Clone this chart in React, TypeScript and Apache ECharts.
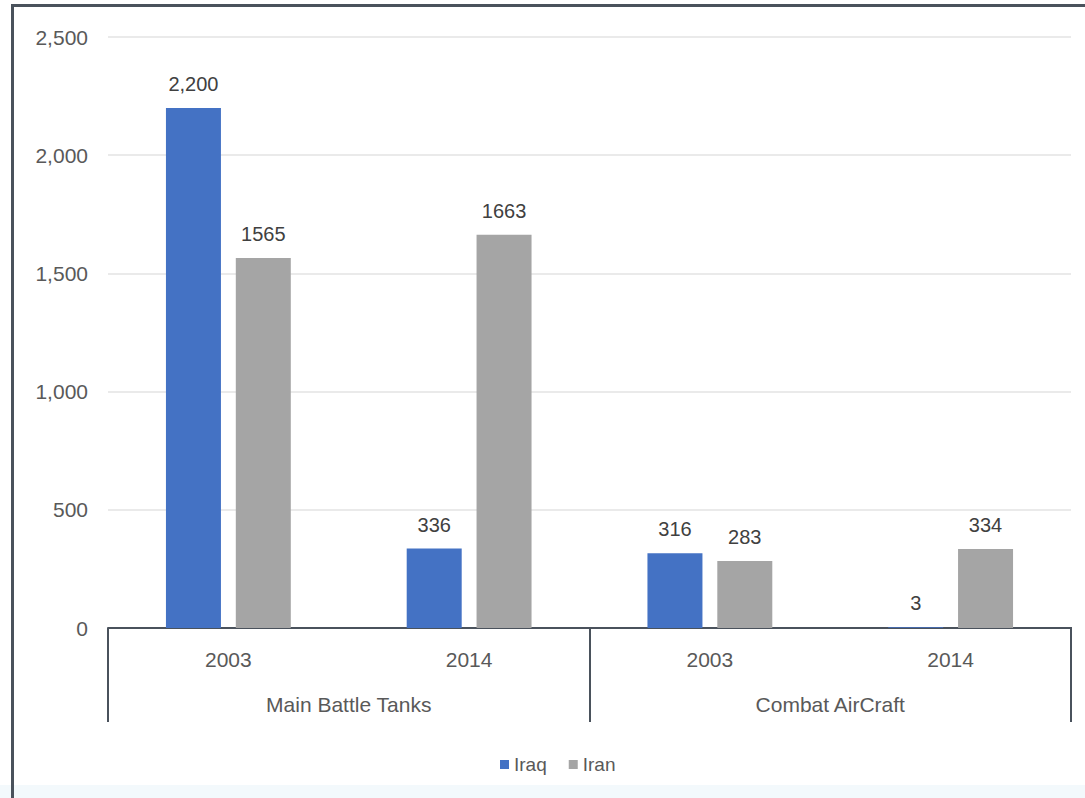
import React, { useEffect, useRef } from "react";
import * as echarts from "echarts";

const years = ["2003", "2014", "2003", "2014"];
const groups = ["Main Battle Tanks", "Combat AirCraft"];
const iraq = [2200, 336, 316, 3];
const iran = [1565, 1663, 283, 334];
const yTicks = { min: 0, max: 2500, interval: 500 };

const FONT = "'Liberation Sans', Arial, sans-serif";
const TEXT = "#595959";
const DARK = "#4a525c";
const TICK_LEN = 94;
const GRID = { left: 108, right: 14, top: 37, bottom: 170 };

export default function App() {
  const ref = useRef<HTMLDivElement>(null);
  useEffect(() => {
    if (!ref.current) return;
    const chart = echarts.init(ref.current, null, { renderer: "svg" });
    chart.setOption({
      animation: false,
      backgroundColor: "#ffffff",
      textStyle: { fontFamily: FONT },
      grid: { ...GRID, containLabel: false },
      legend: {
        left: 495,
        top: 750,
        itemWidth: 9,
        itemHeight: 9,
        itemGap: 22,
        icon: "rect",
        textStyle: { color: TEXT, fontSize: 19, fontFamily: FONT },
        data: ["Iraq", "Iran"],
      },
      xAxis: [
        {
          type: "category",
          data: years,
          position: "bottom",
          axisLine: { show: true, lineStyle: { color: DARK, width: 2 } },
          axisTick: { show: false },
          axisLabel: { color: TEXT, fontSize: 21, margin: 21, fontFamily: FONT },
        },
        {
          type: "category",
          data: groups,
          position: "bottom",
          axisLine: { show: false },
          axisTick: {
            show: true,
            interval: 0,
            length: TICK_LEN,
            lineStyle: { color: DARK, width: 2 },
          },
          axisLabel: { color: TEXT, fontSize: 21, margin: 66, fontFamily: FONT, interval: 0 },
          splitLine: { show: false },
        },
      ],
      yAxis: {
        type: "value",
        min: yTicks.min,
        max: yTicks.max,
        interval: yTicks.interval,
        axisLine: { show: false },
        axisTick: { show: false },
        splitLine: { lineStyle: { color: "#e3e3e3", width: 1.5 } },
        axisLabel: {
          color: TEXT,
          fontSize: 21,
          margin: 20,
          fontFamily: FONT,
          formatter: (v: number) => v.toLocaleString("en-US"),
        },
      },
      series: [
        {
          name: "Iraq",
          type: "bar",
          data: iraq,
          xAxisIndex: 0,
          barWidth: 55,
          barGap: "27%",
          itemStyle: { color: "#4472C4" },
          label: {
            show: true,
            position: "top",
            distance: 14,
            color: "#404040",
            fontSize: 20,
            fontFamily: FONT,
            formatter: (p: any) => Number(p.value).toLocaleString("en-US"),
          },
        },
        {
          name: "Iran",
          type: "bar",
          data: iran,
          xAxisIndex: 0,
          barWidth: 55,
          itemStyle: { color: "#A5A5A5" },
          label: {
            show: true,
            position: "top",
            distance: 14,
            color: "#404040",
            fontSize: 20,
            fontFamily: FONT,
            formatter: (p: any) => String(p.value),
          },
        },
      ],
      graphic: [
        {
          type: "rect",
          left: 0,
          top: 785,
          shape: { width: 1085, height: 13 },
          style: { fill: "#f3f9fc" },
          silent: true,
          z: -1,
        },
        {
          type: "rect",
          shape: { x: 12.5, y: 5.5, width: 1100, height: 820 },
          style: { fill: "none", stroke: DARK, lineWidth: 3 },
          silent: true,
        },
        {
          type: "rect",
          right: GRID.right - 1,
          bottom: GRID.bottom - TICK_LEN,
          shape: { width: 2, height: TICK_LEN + 1 },
          style: { fill: DARK },
          silent: true,
          z: 10,
        },
      ],
    });
    return () => chart.dispose();
  }, []);
  return (
    <div
      ref={ref}
      style={{ position: "fixed", left: 0, top: 0, width: 1085, height: 798 }}
    />
  );
}
